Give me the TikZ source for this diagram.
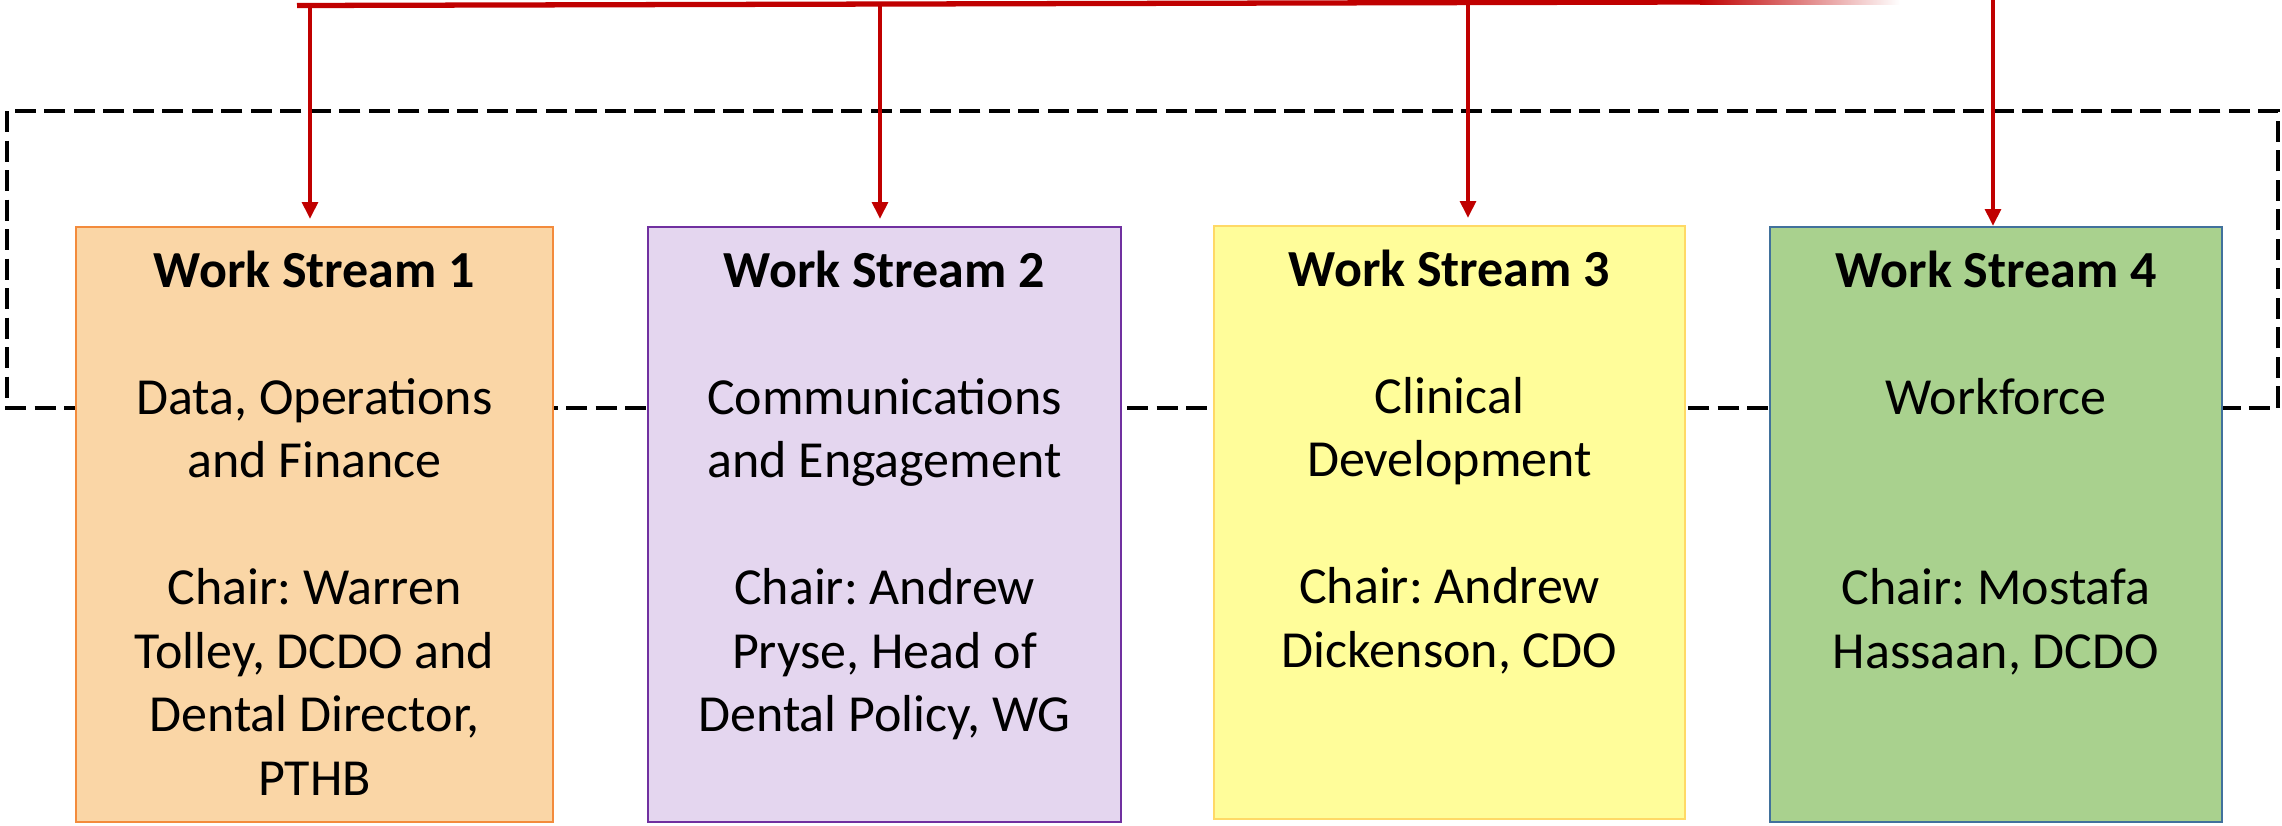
\documentclass[tikz,border=0pt]{standalone}
\usepackage{fontspec}
\setmainfont{Carlito}
\usepackage{xcolor}
\usetikzlibrary{arrows.meta,positioning}

\definecolor{wsred}{HTML}{C00000}
\definecolor{wsorange}{HTML}{FAD6A6}
\definecolor{wsorangeline}{HTML}{F38B3C}
\definecolor{wspurple}{HTML}{E4D6EF}
\definecolor{wspurpleline}{HTML}{7030A0}
\definecolor{wsyellow}{HTML}{FFFD9A}
\definecolor{wsyellowline}{HTML}{FFD966}
\definecolor{wsgreen}{HTML}{A9D18E}
\definecolor{wsgreenline}{HTML}{41719C}

\frenchspacing

\begin{document}
\begin{tikzpicture}[
    >={Triangle[width=4.4pt,length=4.8pt]},
    font=\fontsize{14.8}{18.07}\selectfont,
    wsbox/.style={draw, rectangle, line width=0.6pt, minimum height=5.95cm, inner sep=0pt},
    wstext/.style={align=center, inner sep=0pt},
    topline/.style={draw=wsred, line width=1.5pt},
    feed/.style={->, draw=wsred, line width=1.3pt},
    groupline/.style={draw=black, line width=0.9pt, dash pattern=on 6pt off 2.4pt}
]
    \useasboundingbox (0,0) rectangle (22.82,-8.25);

    % --- Dashed group frame ---
    \draw[groupline] (0.07,-1.11) rectangle (22.78,-4.08);

    % --- Work streams ---
    \node[wsbox, fill=wsorange, draw=wsorangeline, minimum width=4.77cm] (ws1) at (3.145,-5.245) {};
    \node[wsbox, fill=wspurple, draw=wspurpleline, minimum width=4.73cm] (ws2) at (8.845,-5.245) {};
    \node[wsbox, fill=wsyellow, draw=wsyellowline, minimum width=4.71cm, minimum height=5.93cm] (ws3) at (14.495,-5.225) {};
    \node[wsbox, fill=wsgreen, draw=wsgreenline, minimum width=4.52cm] (ws4) at (19.96,-5.245) {};

    \node[wstext, below=0.24cm of ws1.north] (ws1t) {
        \textbf{Work Stream 1}\\[\baselineskip]
        Data, Operations\\
        and Finance\\[\baselineskip]
        Chair: Warren\\
        Tolley, DCDO and\\
        Dental Director,\\
        PTHB
    };
    \node[wstext, below=0.24cm of ws2.north] (ws2t) {
        \textbf{Work Stream 2}\\[\baselineskip]
        Communications\\
        and Engagement\\[\baselineskip]
        Chair: Andrew\\
        Pryse, Head of\\
        Dental Policy, WG
    };
    \node[wstext, below=0.24cm of ws3.north] (ws3t) {
        \textbf{Work Stream 3}\\[\baselineskip]
        Clinical\\
        Development\\[\baselineskip]
        Chair: Andrew\\
        Dickenson, CDO
    };
    \node[wstext, below=0.24cm of ws4.north] (ws4t) {
        \textbf{Work Stream 4}\\[\baselineskip]
        Workforce\\[2\baselineskip]
        Chair: Mostafa\\
        Hassaan, DCDO
    };

    % --- Red feed line ---
    \coordinate (hubL) at (2.97,-0.055);
    \coordinate (hubF) at (17.0,-0.02);
    \coordinate (a1) at (3.10,-0.055);
    \coordinate (a2) at (8.80,-0.045);
    \coordinate (a3) at (14.68,-0.03);
    \coordinate (a4) at (19.93,0);

    \draw[topline] (hubL) -- (hubF);
    \shade[left color=wsred, right color=white] (17.0,0.006) rectangle (19.0,-0.046);

    \draw[feed, shorten >=0.07cm] (a1) -- (a1 |- ws1.north);
    \draw[feed, shorten >=0.07cm] (a2) -- (a2 |- ws2.north);
    \draw[feed, shorten >=0.07cm] (a3) -- (a3 |- ws3.north);
    \draw[feed] (a4) -- (a4 |- ws4.north);

\end{tikzpicture}
\end{document}
